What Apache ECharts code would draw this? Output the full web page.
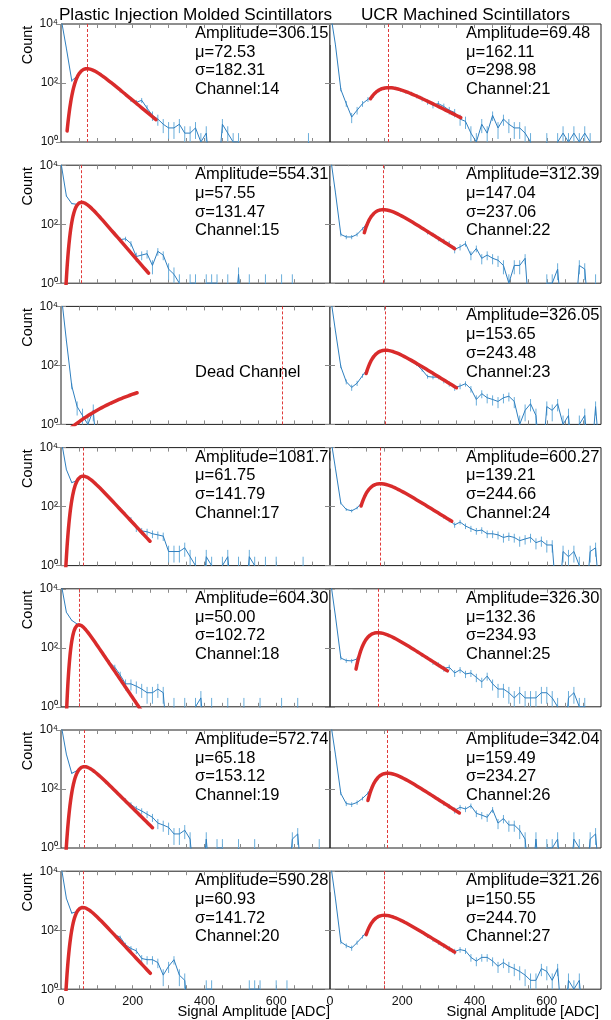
<!DOCTYPE html>
<html>
<head>
<meta charset="utf-8">
<script src="https://cdn.jsdelivr.net/npm/echarts@6/dist/echarts.min.js"></script>
<style>
  html, body { margin: 0; padding: 0; background: #fff; }
  #chart { width: 611px; height: 1020px; }
</style>
</head>
<body>
<div id="chart"></div>
<script>
// Histogram bin centres (ADC)
const binCenters = [0,15,30,45,60,75,90,105,120,135,150,165,180,195,210,225,240,255,270,285,300,315,330,345,360,375,390,405,420,435,450,465,480,495,510,525,540,555,570,585,600,615,630,645,660,675,690,705,720,735,750];

// Counts per channel, plastic injection molded scintillators
const counts14 = [16000,1500,120,170,270,300,265,215,160,110,85,55,42,28,22,26,14,8,6,4,3,3,4,2,2,3,1,2,0,0,4,2,1,1,0,0,0,0,0,0,0,0,0,0,0,0,1,0,0,0,0];
const counts15 = [12000,900,500,470,555,440,300,195,118,76,48,30,32,22,8,9,10,4,12,9,3,2,1,0,1,1,0,1,1,1,0,1,0,2,0,1,0,0,1,0,0,1,0,1,0,0,0,0,0,0,0];
const counts16 = [30000,700,20,4,2,1,3,0,0,0,0,0,0,0,0,0,0,0,0,0,0,0,0,0,0,0,0,0,0,0,0,0,0,0,0,0,0,0,0,0,0,0,0,0,0,0,0,0,0,0,0];
const counts17 = [20000,1800,650,760,1050,950,700,470,300,200,130,85,55,38,18,15,14,12,11,10,3,3,3,4,2,1,0,2,1,0,1,2,0,1,0,2,1,0,1,0,1,0,0,0,0,1,0,0,0,0,0];
const counts18 = [16000,1600,850,640,520,330,185,100,56,32,22,12,6,6,5,4,3,3,4,3,0,1,0,1,0,1,2,0,1,0,0,1,0,0,1,0,0,1,0,0,0,1,0,0,1,0,0,0,0,0,0];
const counts19 = [16000,1500,340,420,555,530,415,290,200,130,88,58,42,30,22,18,14,11,7,6,5,3,3,4,2,0,0,2,0,1,1,0,0,1,0,0,1,0,0,0,0,0,0,2,3,0,0,0,1,0,0];
const counts20 = [16000,1200,380,430,580,510,370,250,160,105,70,58,32,24,20,11,10,10,8,3,6,10,3,2,0,0,0,1,1,0,0,0,0,0,0,1,1,1,0,0,1,0,1,0,0,0,0,0,0,0,0];

// Counts per channel, UCR machined scintillators
const counts21 = [30000,2000,60,20,7,12,20,28,38,55,66,70,68,58,50,44,36,29,23,18,20,16,12,10,6,5,2,1,4,2,8,3,6,4,3,3,2,1,0,0,1,0,1,2,1,2,1,2,1,0,0];
const counts22 = [25000,1200,45,37,37,45,70,115,215,290,315,290,240,195,155,125,95,72,52,45,32,27,22,14,17,22,9,15,7,9,7,6,4,1,4,4,7,0,0,0,1,1,3,0,0,0,4,3,0,1,0];
const counts23 = [28000,1500,90,28,18,25,45,80,185,280,320,310,270,225,180,140,105,70,42,40,40,30,24,18,20,24,16,7,11,8,7,6,8,9,6,1,3,5,2,0,4,3,5,1,2,0,1,2,0,4,0];
const counts24 = [30000,2000,130,80,72,90,145,330,510,590,585,520,430,345,270,215,165,128,98,80,62,45,35,24,30,22,18,15,16,12,12,11,9,10,9,7,8,9,6,7,5,5,0,3,2,3,1,0,3,4,0];
const counts25 = [25000,1200,45,37,36,42,110,225,300,325,300,255,205,165,125,100,75,56,45,32,27,20,22,14,18,13,14,10,7,11,6,4,4,3,2,3,2,2,2,3,3,2,1,0,2,3,1,1,0,0,0];
const counts26 = [25000,1500,70,32,30,35,48,72,150,255,330,335,305,255,205,165,125,98,75,58,44,33,26,19,24,21,27,15,13,11,20,7,10,6,6,4,2,0,2,0,1,1,2,0,0,2,1,0,2,3,0];
const counts27 = [25000,1200,40,30,25,38,60,100,210,290,320,305,262,218,175,140,108,85,62,48,38,30,24,19,22,20,12,9,12,12,9,6,8,6,5,4,3,2,2,5,4,2,5,0,2,1,2,0,0,0,0];

// Panel order: left column channels 14-20, right column 21-27
const channels = [14,15,16,17,18,19,20,21,22,23,24,25,26,27];
const countsList = [counts14,counts15,counts16,counts17,counts18,counts19,counts20,
                    counts21,counts22,counts23,counts24,counts25,counts26,counts27];

// Fit parameters (channel 16 is dead: its curve is drawn but not labelled)
const fitAmplitude = [306.15, 554.31, 46, 1081.7, 604.30, 572.74, 590.28,
                      69.48, 312.39, 326.05, 600.27, 326.30, 342.04, 321.26];
const fitMu        = [72.53, 57.55, 617, 61.75, 50.00, 65.18, 60.93,
                      162.11, 147.04, 153.65, 139.21, 132.36, 159.49, 150.55];
const fitSigma     = [182.31, 131.47, 2040, 141.79, 102.72, 153.12, 141.72,
                      298.98, 237.06, 243.48, 244.66, 234.93, 234.27, 244.70];
const fitFrom      = [17, 0, 30, 0, 0, 0, 0, 112, 95, 100, 86, 72, 105, 100];
const fitTo        = [265, 245, 213, 248, 240, 255, 250, 363, 345, 350, 337, 325, 358, 345];
const deadChannels = [16];

// Axis ticks and labels
const xTickValues = [50,100,150,200,250,300,350,400,450,500,550,600,650,700];
const xLabelValues = [0,200,400,600];
const yTickValues = [1,100,10000];
const yTickLabels = {1: '10\u2070', 100: '10\u00B2', 10000: '10\u2074'};
const columnTitles = ['Plastic Injection Molded Scintillators', 'UCR Machined Scintillators'];
const xAxisTitle = 'Signal Amplitude [ADC]';
const yAxisTitle = 'Count';

// Layout
const FONT = '"Liberation Sans", Arial, Helvetica, sans-serif';
const COL_LEFT = [61, 330];
const COL_WIDTH = [269, 271];
const ROW_TOP0 = 24, ROW_STEP = 141.2, ROW_H = 118;
const X_MAX = 750, Y_MIN = 1, Y_MAX = 10000;
const BLUE = '#2f7fbf', BLUE_ERR = '#6aaedb', RED = '#d92b2b', FRAME = '#1e1e1e', TICK = '#8a8a8a';

// Moyal (Landau-like) fit shape: peak of height amp at mu
const WIDTH_SCALE = 8.5;
function fitValue(x, amp, mu, sigma) {
  const lam = (x - mu) / (sigma / WIDTH_SCALE);
  const v = amp * Math.exp(0.5 - 0.5 * (lam + Math.exp(-lam)));
  return Math.max(v, 1e-4);
}

function errorBarItem(params, api) {
  const x = api.value(0), lo = api.value(1), hi = api.value(2);
  const cs = params.coordSys;
  const pHi = api.coord([x, hi]);
  const pLo = api.coord([x, lo]);
  const top = Math.max(cs.y, pHi[1]);
  const bottom = Math.min(cs.y + cs.height, pLo[1]);
  if (!(bottom > top)) return null;
  return {
    type: 'line',
    shape: { x1: pLo[0], y1: bottom, x2: pLo[0], y2: top },
    style: { stroke: BLUE_ERR, lineWidth: 1 }
  };
}

const option = {
  animation: false,
  backgroundColor: '#ffffff',
  grid: [], xAxis: [], yAxis: [], series: [], graphic: []
};

function txt(text, x, y, size, align, extra) {
  return Object.assign({
    type: 'text', x: x, y: y, z: 1,
    style: {
      text: text, fill: '#000', font: size + 'px ' + FONT,
      fontSize: size, fontFamily: FONT,
      textAlign: align, align: align,
      textVerticalAlign: 'middle', verticalAlign: 'middle'
    }
  }, extra || {});
}

channels.forEach(function (ch, p) {
  const col = p < 7 ? 0 : 1;
  const row = p % 7;
  const top = ROW_TOP0 + ROW_STEP * row;
  const left = COL_LEFT[col];
  const counts = countsList[p];

  option.grid.push({
    left: left, top: top, width: COL_WIDTH[col], height: ROW_H,
    show: true, borderColor: FRAME, borderWidth: 1, backgroundColor: 'transparent',
    containLabel: false, outerBoundsMode: 'none'
  });

  const xBase = {
    type: 'value', gridIndex: p, min: 0, max: X_MAX, interval: 50,
    axisLine: { show: false }, splitLine: { show: false },
    axisTick: { show: true, inside: true, length: 4, customValues: xTickValues,
                lineStyle: { color: TICK, width: 1 } }
  };
  option.xAxis.push(Object.assign({}, xBase, {
    position: 'bottom',
    axisLabel: {
      show: row === 6, customValues: xLabelValues, fontSize: 12.5, color: '#111',
      fontFamily: FONT, margin: 6,
      formatter: function (v) { return v % 200 === 0 ? String(v) : ''; }
    }
  }));
  option.xAxis.push(Object.assign({}, xBase, { position: 'top', axisLabel: { show: false } }));

  const yBase = {
    type: 'log', logBase: 10, gridIndex: p, min: Y_MIN, max: Y_MAX,
    axisLine: { show: false }, splitLine: { show: false },
    axisTick: { show: true, inside: true, length: 5, customValues: yTickValues,
                lineStyle: { color: TICK, width: 1 } }
  };
  option.yAxis.push(Object.assign({}, yBase, {
    position: 'left',
    axisLabel: {
      show: col === 0, customValues: yTickValues, fontSize: 12, color: '#111',
      fontFamily: FONT, margin: 3,
      formatter: function (v) { return yTickLabels[Math.round(v)] || ''; }
    }
  }));
  option.yAxis.push(Object.assign({}, yBase, { position: 'right', axisLabel: { show: false } }));

  const xi = 2 * p, yi = 2 * p;

  // error bars: ±sqrt(N)
  const errData = [];
  binCenters.forEach(function (x, i) {
    const n = counts[i];
    if (n > 0) {
      const e = Math.sqrt(n);
      errData.push([x, Math.max(n - e, 1e-3), n + e]);
    }
  });
  option.series.push({
    type: 'custom', xAxisIndex: xi, yAxisIndex: yi, z: 5, silent: true,
    renderItem: errorBarItem, encode: { x: 0, y: [1, 2] }, data: errData
  });

  // histogram line (empty bins drop below the axis)
  option.series.push({
    type: 'line', xAxisIndex: xi, yAxisIndex: yi, z: 6, silent: true,
    showSymbol: false, symbol: 'none', clip: true,
    lineStyle: { color: BLUE, width: 1 },
    data: binCenters.map(function (x, i) { return [x, counts[i] > 0 ? counts[i] : 0.02]; })
  });

  // fit curve and its peak position
  const fitData = [];
  for (let x = fitFrom[p]; x <= fitTo[p]; x += 1) {
    fitData.push([x, fitValue(x, fitAmplitude[p], fitMu[p], fitSigma[p])]);
  }
  option.series.push({
    type: 'line', xAxisIndex: xi, yAxisIndex: yi, z: 7, silent: true,
    showSymbol: false, symbol: 'none', clip: true,
    lineStyle: { color: RED, width: 3.5, cap: 'round' },
    data: fitData,
    markLine: {
      silent: true, symbol: ['none', 'none'], label: { show: false },
      lineStyle: { color: '#e03a3a', width: 1, type: [3, 2] },
      data: [{ xAxis: fitMu[p] }]
    }
  });

  // annotation
  const tx = left + (col === 0 ? 134 : 136);
  const lineY = function (k) { return top + 9.5 + 18.7 * k; };
  if (deadChannels.indexOf(ch) >= 0) {
    option.graphic.push(txt('Dead Channel', tx, lineY(3), 16.5, 'left'));
  } else {
    option.graphic.push(txt('Amplitude=' + fitAmplitude[p].toFixed(2), tx, lineY(0), 16.5, 'left'));
    option.graphic.push(txt('\u03BC=' + fitMu[p].toFixed(2), tx, lineY(1), 16.5, 'left'));
    option.graphic.push(txt('\u03C3=' + fitSigma[p].toFixed(2), tx, lineY(2), 16.5, 'left'));
    option.graphic.push(txt('Channel:' + ch, tx, lineY(3), 16.5, 'left'));
  }
  if (col === 0) {
    option.graphic.push(txt(yAxisTitle, 28, top + 21, 14.5, 'center', { rotation: Math.PI / 2 }));
    // keeps left-column text inside its own frame
    option.graphic.push({
      type: 'rect', z: 2, silent: true,
      shape: { x: COL_LEFT[1] + 0.6, y: top + 1, width: 22, height: 20 },
      style: { fill: '#ffffff' }
    });
  }
  if (row === 6) {
    option.graphic.push(txt(xAxisTitle, left + COL_WIDTH[col] - (col === 0 ? 0 : 2), 1012, 14.6, 'right'));
  }
});

option.graphic.push(txt(columnTitles[0], COL_LEFT[0] + COL_WIDTH[0] / 2, 15, 17.2, 'center'));
option.graphic.push(txt(columnTitles[1], COL_LEFT[1] + COL_WIDTH[1] / 2, 15, 17.2, 'center'));

const chart = echarts.init(document.getElementById('chart'), null, { renderer: 'canvas' });
chart.setOption(option);
</script>
</body>
</html>
